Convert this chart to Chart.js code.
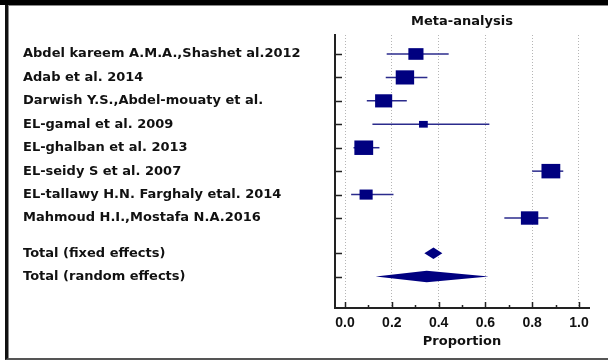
<!DOCTYPE html>
<html>
<head>
<meta charset="utf-8">
<script src="https://cdn.jsdelivr.net/npm/chart.js@4.4.0/dist/chart.umd.min.js"></script>
<style>
  body { margin: 0; background: #fff; }
  #band { position: absolute; left: 0; top: 0; width: 608px; height: 5px; background: #000; }
  #frame {
    position: absolute; left: 5px; top: 5px; width: 603px; height: 355px; box-sizing: border-box;
    border-left: 3px solid #111; border-bottom: 2px solid #555;
    box-shadow: inset 1px 1px 0 #8a8a8a;
  }
  #forest { position: absolute; left: 0; top: 0; }
</style>
</head>
<body>
<div id="band"></div>
<div id="frame"></div>
<canvas id="forest" width="608" height="360"></canvas>
<script>
// individual studies: proportion with 95% CI and weight (%)
const studies = [
    'Abdel kareem A.M.A.,Shashet al.2012',
    'Adab et al. 2014',
    'Darwish Y.S.,Abdel-mouaty et al.',
    'EL-gamal et al. 2009',
    'EL-ghalban et al. 2013',
    'EL-seidy S et al. 2007',
    'EL-tallawy H.N. Farghaly etal. 2014',
    'Mahmoud H.I.,Mostafa N.A.2016'
];
const estimates = [0.303, 0.256, 0.165, 0.335, 0.080, 0.880, 0.090, 0.789];
const lowerCI = [0.178, 0.174, 0.093, 0.117, 0.036, 0.800, 0.026, 0.681];
const upperCI = [0.443, 0.352, 0.264, 0.617, 0.147, 0.933, 0.207, 0.869];
const weights = [10.8, 16.0, 13.8, 3.6, 16.7, 16.7, 8.1, 14.3];

// pooled estimates
const pooledLabels = ['Total (fixed effects)', 'Total (random effects)'];
const pooledEst = [0.378, 0.349];
const pooledLower = [0.339, 0.131];
const pooledUpper = [0.416, 0.614];

const xTicks = [0.0, 0.2, 0.4, 0.6, 0.8, 1.0];

// row index on the y scale: studies one per row, totals after a half-row gap
const studyRows = studies.map((_, i) => i);
const pooledRows = pooledLabels.map((_, i) => studies.length + 0.5 + i);
const rows = studyRows.concat(pooledRows);
const rowLabels = studies.concat(pooledLabels);

const NAVY = '#000080';
const textFont = { family: "'DejaVu Sans', Verdana, sans-serif", size: 13, weight: 'bold' };
const numFont = { family: "'Liberation Sans', Arial, sans-serif", size: 14, weight: 'bold' };

const forestMarks = {
    id: 'forestMarks',
    afterDatasetsDraw(chart) {
        const { ctx, chartArea, scales: { x, y } } = chart;
        ctx.save();

        // inward tick marks
        ctx.strokeStyle = '#222';
        ctx.lineWidth = 1.5;
        ctx.beginPath();
        rows.forEach(r => {
            const py = Math.round(y.getPixelForValue(r)) + 0.5;
            ctx.moveTo(chartArea.left, py);
            ctx.lineTo(chartArea.left + 7, py);
        });
        xTicks.forEach((v, i) => {
            const px = Math.round(x.getPixelForValue(v)) + 0.5;
            ctx.moveTo(px, chartArea.bottom);
            ctx.lineTo(px, chartArea.bottom - 6);
            if (i > 0) {
                const mx = Math.round(x.getPixelForValue((v + xTicks[i - 1]) / 2)) + 0.5;
                ctx.moveTo(mx, chartArea.bottom);
                ctx.lineTo(mx, chartArea.bottom - 3);
            }
        });
        ctx.stroke();

        // confidence intervals
        ctx.strokeStyle = '#2b2b8c';
        ctx.lineWidth = 1.5;
        studies.forEach((s, i) => {
            const py = y.getPixelForValue(studyRows[i]);
            ctx.beginPath();
            ctx.moveTo(x.getPixelForValue(lowerCI[i]), py);
            ctx.lineTo(x.getPixelForValue(upperCI[i]), py);
            ctx.stroke();
        });

        // weighted boxes
        ctx.fillStyle = NAVY;
        studies.forEach((s, i) => {
            const cx = x.getPixelForValue(estimates[i]);
            const cy = y.getPixelForValue(studyRows[i]);
            const w = Math.sqrt(weights[i]) * 4.6;
            const h = w * 0.77;
            ctx.fillRect(cx - w / 2, cy - h / 2, w, h);
        });

        // pooled diamonds
        pooledLabels.forEach((s, i) => {
            const cy = y.getPixelForValue(pooledRows[i]);
            const half = 5.75;
            ctx.beginPath();
            ctx.moveTo(x.getPixelForValue(pooledLower[i]), cy);
            ctx.lineTo(x.getPixelForValue(pooledEst[i]), cy - half);
            ctx.lineTo(x.getPixelForValue(pooledUpper[i]), cy);
            ctx.lineTo(x.getPixelForValue(pooledEst[i]), cy + half);
            ctx.closePath();
            ctx.fill();
        });

        ctx.restore();
    }
};

new Chart(document.getElementById('forest'), {
    type: 'scatter',
    data: {
        datasets: [{
            data: estimates.map((v, i) => ({ x: v, y: studyRows[i] })),
            pointRadius: 0
        }]
    },
    options: {
        responsive: false,
        animation: false,
        layout: { padding: { left: 23, right: 19, top: 0, bottom: 11 } },
        plugins: {
            legend: { display: false },
            tooltip: { enabled: false },
            title: {
                display: true,
                text: 'Meta-analysis',
                fullSize: false,
                color: '#111',
                font: textFont,
                padding: { top: 14, bottom: 5.4 }
            }
        },
        scales: {
            x: {
                type: 'linear',
                min: -0.043,
                max: 1.043,
                afterBuildTicks: scale => { scale.ticks = xTicks.map(v => ({ value: v })); },
                afterFit: scale => { scale.height = 41; },
                grid: { color: '#b5b5b5', lineWidth: 1, drawTicks: false },
                border: { display: true, color: '#222', width: 2, dash: [1, 2] },
                ticks: { padding: 7, color: '#111', font: numFont, maxRotation: 0, callback: v => v.toFixed(1) },
                title: { display: true, text: 'Proportion', color: '#111', font: textFont, padding: 0 }
            },
            y: {
                type: 'linear',
                reverse: true,
                min: -0.81,
                max: 10.84,
                afterBuildTicks: scale => { scale.ticks = rows.map(v => ({ value: v })); },
                afterFit: scale => { scale.width = 312; },
                grid: { display: false },
                border: { display: true, color: '#222', width: 2 },
                ticks: { crossAlign: 'far', autoSkip: false, color: '#111', font: textFont, callback: (v, i) => rowLabels[i] }
            }
        }
    },
    plugins: [forestMarks]
});
</script>
</body>
</html>
